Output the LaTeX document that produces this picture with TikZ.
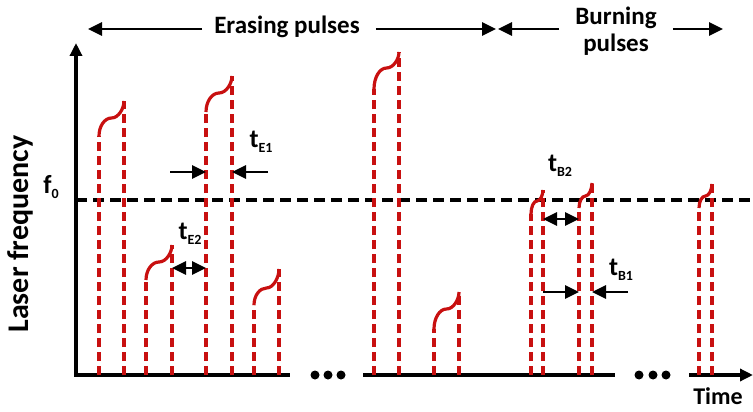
\documentclass[tikz,border=0pt]{standalone}
\usepackage{fontspec}
\setmainfont{Carlito}
\usetikzlibrary{arrows.meta}
\definecolor{pulsered}{RGB}{200,16,16}

\newcommand{\pulselab}[2]{#1\raisebox{-5pt}{\fontsize{14}{14}\selectfont #2}}

\begin{document}
\begin{tikzpicture}[
    x=1pt, y=-1pt,
    lbl/.style={font=\fontsize{25}{27}\selectfont\bfseries, inner sep=0pt, align=center},
    tlbl/.style={font=\fontsize{26}{27}\selectfont\bfseries, inner sep=0pt},
    axisline/.style={line width=4.5pt},
    refline/.style={line width=3.2pt, dash pattern=on 11pt off 6pt},
    pulseline/.style={pulsered, line width=3.2pt, dash pattern=on 9pt off 5pt},
    pulsecap/.style={pulsered, line width=3.2pt},
    arrow/.style={-{Triangle[length=14pt,width=13pt]}, line width=2.8pt},
    dblarrow/.style={{Triangle[length=14pt,width=13pt]}-{Triangle[length=14pt,width=13pt]}, line width=2.8pt},
    dotmark/.style={circle, fill, inner sep=0pt, minimum size=9pt},
]
    \useasboundingbox (0,0) rectangle (753,412);

    % Axes
    \coordinate (origin) at (76,375);
    \coordinate (ytip) at (76,43);
    \coordinate (xa) at (290,375);
    \coordinate (xb) at (363,375);
    \coordinate (xc) at (615,375);
    \coordinate (xd) at (689,375);
    \coordinate (xtip) at (753,375);
    \draw[axisline, {Triangle[length=13pt,width=12pt]}-] (ytip) -- (origin) -- (xa);
    \draw[axisline] (xb) -- (xc);
    \draw[axisline, -{Triangle[length=13pt,width=12pt]}] (xd) -- (xtip);
    \foreach \i/\x in {1/315, 2/328, 3/341, 4/639, 5/653, 6/666}
        \node[dotmark] (dot\i) at (\x,375) {};

    % Axis labels
    \node[lbl, font=\fontsize{30}{32}\selectfont\bfseries, rotate=90] (ylab) at (20,234) {Laser frequency};
    \node[lbl, font=\fontsize{24}{26}\selectfont\bfseries] (xlab) at (718,396) {Time};
    \node[tlbl] (f0) at (51,187) {\pulselab{f}{0}};

    % Reference frequency f0
    \coordinate (fa) at (76,200);
    \coordinate (fb) at (753,200);
    \draw[refline] (fa) -- (fb);

    % Pulses: number / left x / right x / cap start / cap middle / cap top
    \foreach \n/\xa/\xb/\yl/\ym/\yt in {1/99/124/136/118/101, 2/146/172/280/262/245,
        3/206/232/112/93/76, 4/254/279/305/288/269, 5/374/399/89/68/52,
        6/434/459/329/309/292, 7/531/543/214/201/190, 8/579/592/208/196/183,
        9/699/712/208/196/184} {
        \coordinate (p\n-l) at (\xa,375);
        \coordinate (p\n-s) at (\xa,\yl);
        \coordinate (p\n-m) at ({(\xa+\xb)/2},\ym);
        \coordinate (p\n-t) at (\xb,\yt);
        \coordinate (p\n-r) at (\xb,375);
        \draw[pulseline] (p\n-l) -- (p\n-s);
        \draw[pulsecap] (p\n-s)
            .. controls (\xa,{\yl-0.55*(\yl-\ym)}) and ({\xa+0.45*(\xb-\xa)/2},\ym) .. (p\n-m)
            .. controls ({\xb-0.45*(\xb-\xa)/2},\ym) and (\xb,{\ym-0.55*(\ym-\yt)}) .. (p\n-t);
        \draw[pulseline] (p\n-r) -- (p\n-t);
    }

    % Erasing pulse spacings
    \coordinate (e1a) at (170,172);
    \coordinate (e1b) at (268,172);
    \draw[arrow] (e1a) -- (e1a -| p3-l);
    \draw[arrow] (e1b) -- (e1b -| p3-r);
    \node[tlbl] (tE1) at (261,142) {\pulselab{t}{E1}};
    \coordinate (e2) at (0,268);
    \draw[dblarrow] (e2 -| p2-r) -- (e2 -| p3-l);
    \node[tlbl] (tE2) at (190,234) {\pulselab{t}{E2}};

    % Burning pulse spacings
    \coordinate (b2) at (0,219);
    \draw[dblarrow] (b2 -| p7-r) -- (b2 -| p8-l);
    \node[tlbl] (tB2) at (560,166) {\pulselab{t}{B2}};
    \coordinate (b1a) at (543,292);
    \coordinate (b1b) at (628,292);
    \draw[arrow] (b1a) -- (b1a -| p8-l);
    \draw[arrow] (b1b) -- (b1b -| p8-r);
    \node[tlbl] (tB1) at (621,270) {\pulselab{t}{B1}};

    % Pulse groups
    \node[lbl] (erase) at (287,27) {Erasing pulses};
    \node[lbl] (burn) at (616,31) {Burning\\pulses};
    \coordinate (ea) at (88,29);
    \coordinate (eb) at (496,29);
    \coordinate (ba) at (498,29);
    \coordinate (bb) at (723,29);
    \draw[arrow] ([xshift=-12pt]erase.west |- ea) -- (ea);
    \draw[arrow] ([xshift=16pt]erase.east |- eb) -- (eb);
    \draw[arrow] ([xshift=-16pt]burn.west |- ba) -- (ba);
    \draw[arrow] ([xshift=16pt]burn.east |- bb) -- (bb);
\end{tikzpicture}
\end{document}
